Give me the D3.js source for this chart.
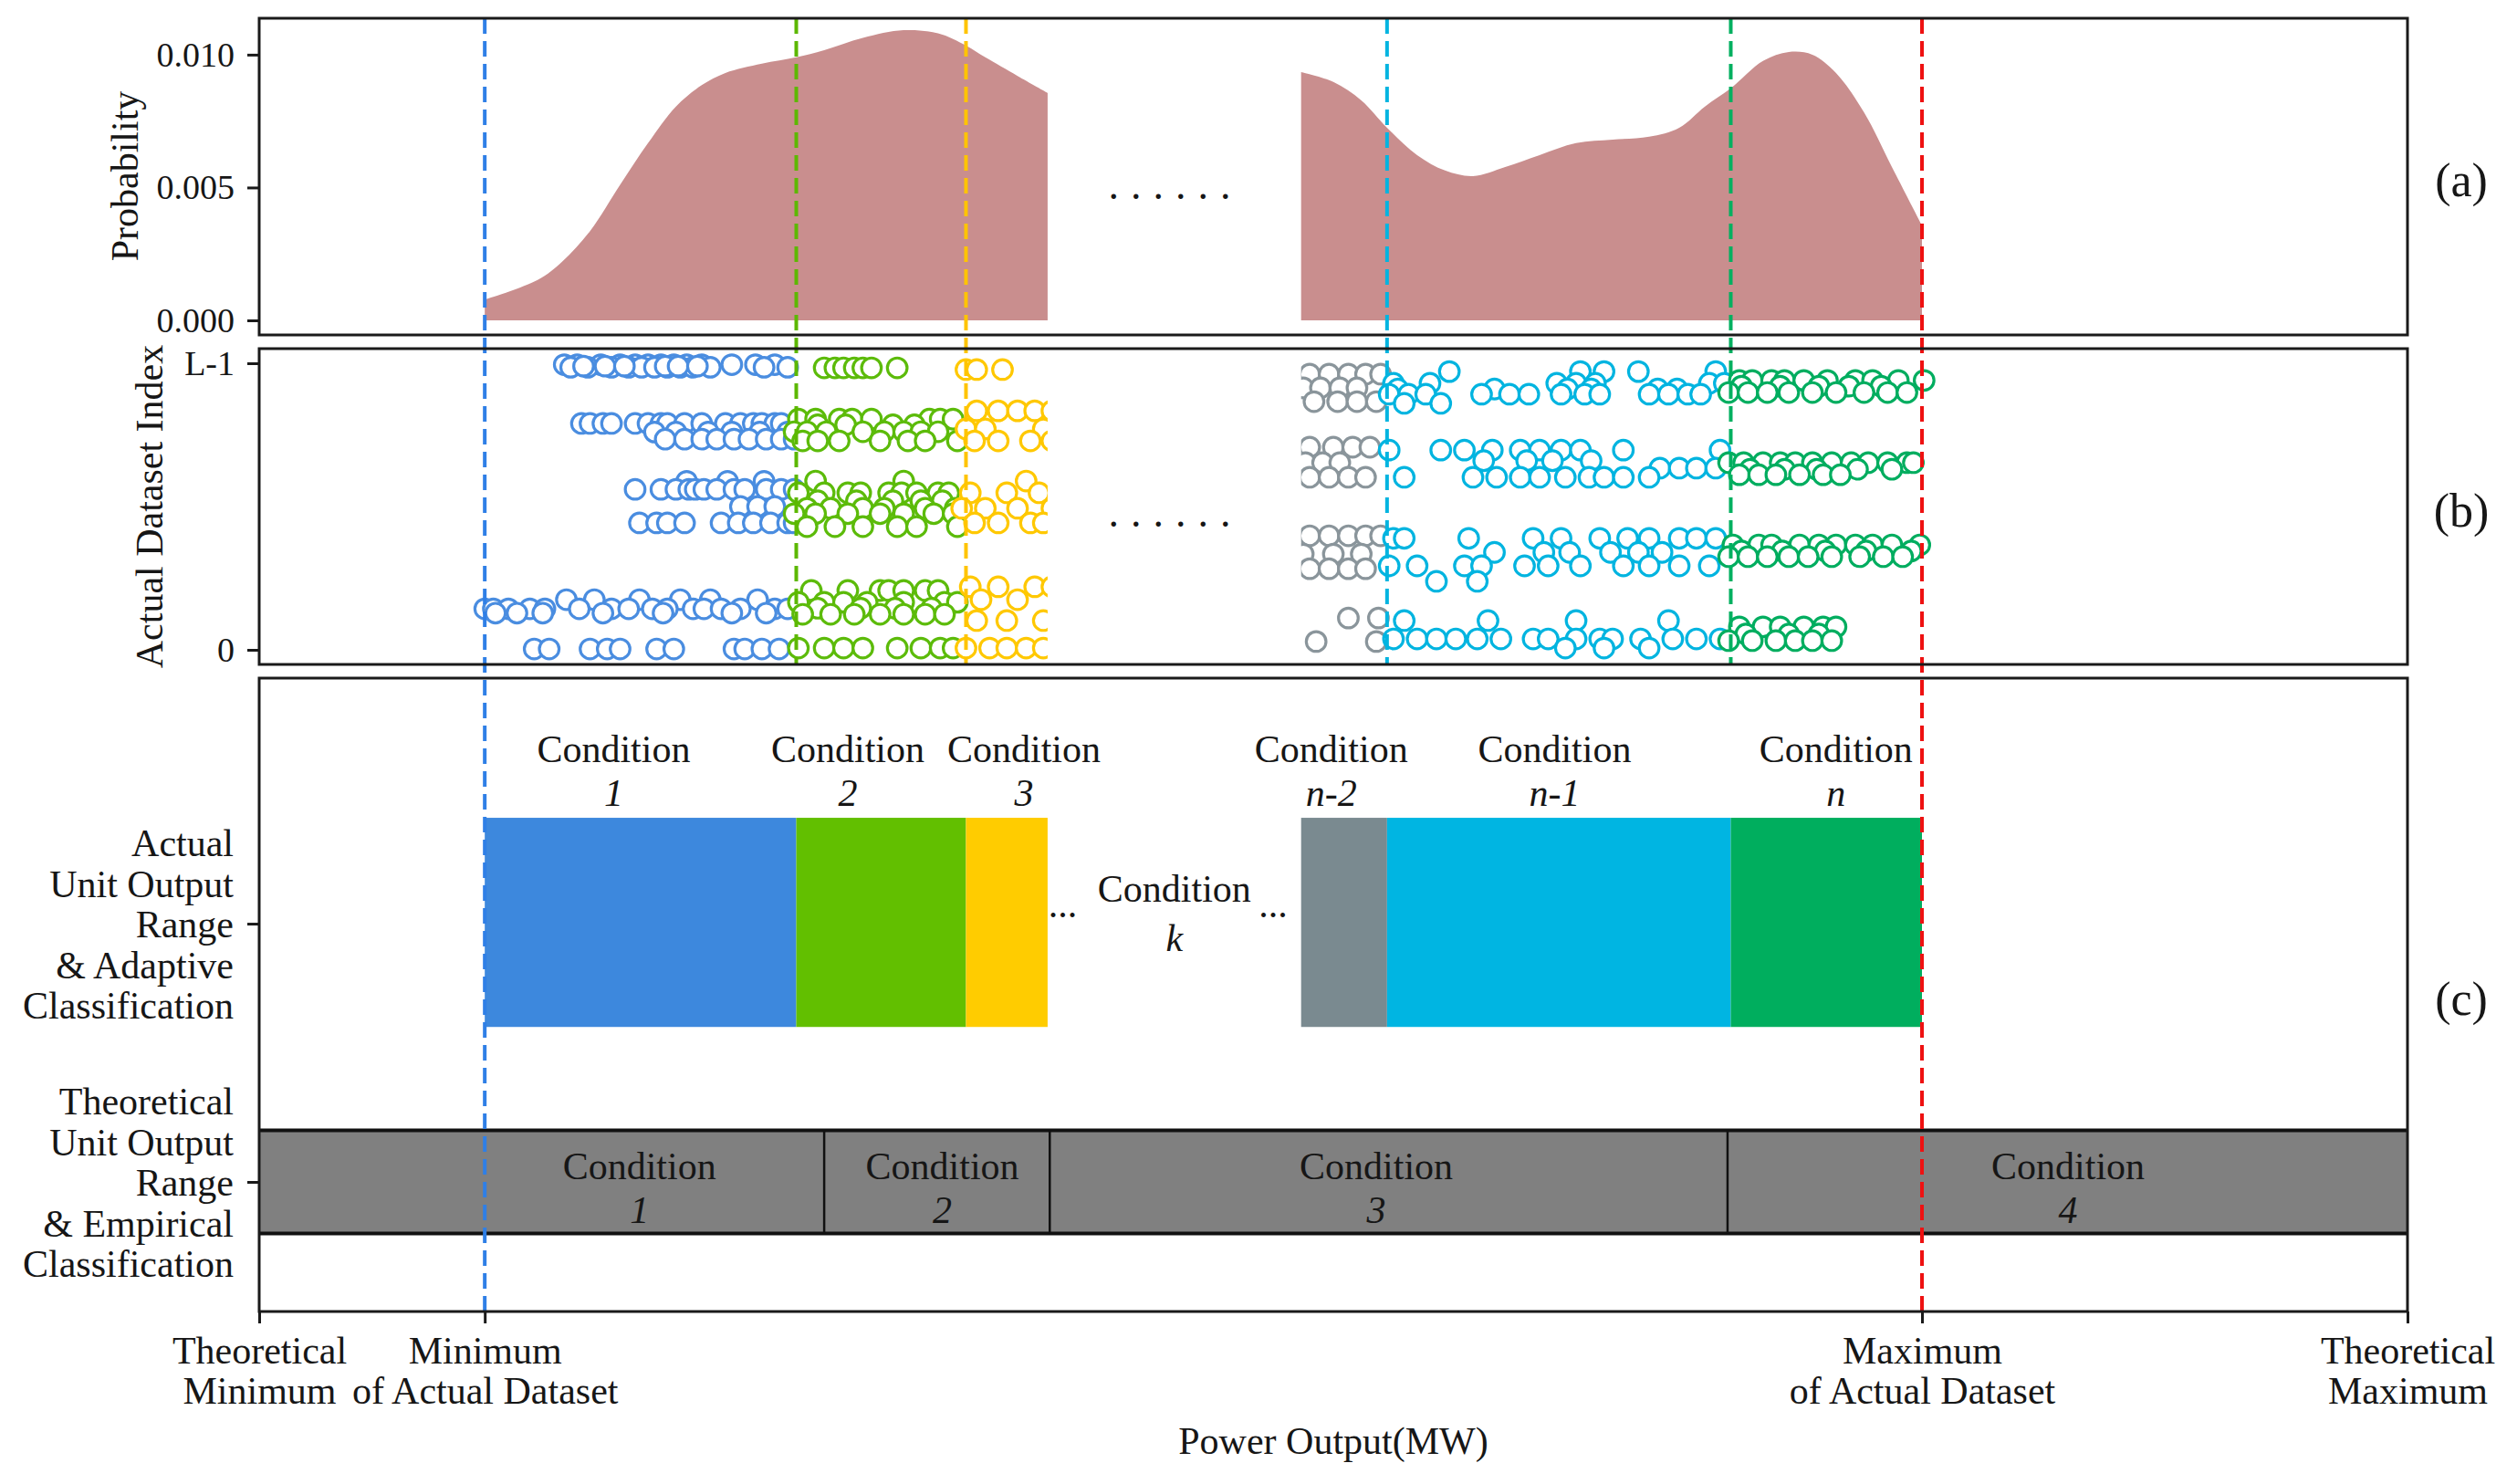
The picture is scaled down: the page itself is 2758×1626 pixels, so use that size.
<!DOCTYPE html>
<html><head><meta charset="utf-8">
<script src="https://cdn.jsdelivr.net/npm/d3@7"></script>
<style>
body{margin:0;background:#fff}
svg{display:block}
text{font-family:"Liberation Serif","Times New Roman",serif;fill:#161616}
</style>
</head><body>
<svg id="chart" width="2758" height="1626"></svg>
<script>
// ---------------- DATA ----------------
// x axis (power output, 0 = theoretical minimum, 100 = theoretical maximum)
const xTickValues = [0, 10.5, 77.4, 100];
const xTickLabels = [["Theoretical","Minimum"],["Minimum","of Actual Dataset"],["Maximum","of Actual Dataset"],["Theoretical","Maximum"]];
const xTitle = "Power Output(MW)";

// dashed split lines
const splitValues = [10.5, 25.0, 32.9, 52.5, 68.5, 77.4];
const splitFullHeight = [true, false, false, false, false, true];

// panel (a) probability density (two visible segments)
const densityLeftX = [10.5,12.96,14.1,15.4,16.8,18.1,19.4,20.6,21.7,23.4,25.0,26.3,28.1,30.0,31.6,32.9,33.8,35.3,36.7];
const densityLeftY = [0.00078,0.00152,0.00221,0.00336,0.0051,0.00667,0.00805,0.00885,0.00931,0.00966,0.0099,0.01017,0.01063,0.01092,0.0108,0.01034,0.0099,0.0092,0.00856];
const densityRightX = [48.5,50.0,51.3,52.5,53.9,55.2,56.5,58.0,59.6,61.3,63.0,64.7,66.1,67.3,68.5,70.0,71.2,72.3,73.4,74.7,76.0,77.4];
const densityRightY = [0.00934,0.00897,0.00828,0.00725,0.00622,0.00564,0.00543,0.00577,0.00622,0.00667,0.0068,0.00691,0.00725,0.00805,0.00873,0.00976,0.0101,0.0100,0.00931,0.00783,0.00577,0.00357];
const yTicksA = [0, 0.005, 0.010];

// panel (b) actual dataset index rows: [index, [power values]]
const yTicksB = [0, 100];
const yTickLabelsB = ["0", "L-1"];
const blueRows = [
  [99.5,[14.2,14.8,15.9,16.8,17.5,18.1,18.7,19.3,19.9,20.6,22.0,23.1,24.0]],
  [98.6,[14.5,15.3,16.4,17.2,17.8,18.4,19.0,19.6,20.2,21.0,23.5,24.6]],
  [99.0,[15.1,16.1,17.0,18.9,19.5,20.4]],
  [79.0,[15.0,15.4,16.0,16.4,17.5,18.1,18.7,19.0,19.8,20.6,21.7,22.4,23.0,23.4,24.0,24.3]],
  [76.0,[18.4,19.4,20.9,22.0,23.3,24.6]],
  [73.5,[18.9,19.8,20.6,21.3,22.1,22.8,23.6,24.3,24.9]],
  [58.8,[19.9,21.8,23.5]],
  [56.0,[17.5,18.7,19.4,20.0,20.3,20.7,21.3,22.1,22.6,23.6,24.3,24.9]],
  [50.0,[22.4,23.2,24.0]],
  [44.3,[17.7,18.5,19.0,19.8,21.5,22.3,23.0,23.8,24.6,24.9]],
  [17.5,[14.3,15.6,17.7,19.6,21.0,23.2]],
  [14.3,[10.5,10.9,11.6,12.6,13.3,14.9,16.4,17.2,18.3,19.0,20.2,20.7,21.5,22.4,24.0,24.6]],
  [12.8,[11.0,12.0,13.2,16.0,18.8,22.0,23.6]],
  [0.3,[12.8,13.5,15.4,16.2,16.8,18.5,19.3,22.1,22.6,23.4,24.2]]
];
const greenRows = [
  [98.4,[26.3,26.8,27.2,27.7,28.1,28.5,29.7]],
  [80.5,[25.1,25.9,27.0,27.6,28.5,31.2,31.7,32.3]],
  [78.5,[26.0,27.3,29.5,30.5]],
  [76.1,[24.9,25.5,26.4,28.1,29.1,30.0,30.8,31.6]],
  [72.9,[25.3,26.0,27.0,28.9,30.2,31.0,32.5]],
  [58.9,[25.9,30.0]],
  [54.8,[25.1,26.3,27.4,28.0,29.3,29.9,30.6,31.6,32.1]],
  [52.0,[26.0,27.8,29.5,30.8,31.8]],
  [49.4,[25.5,26.6,28.1,29.1,31.0,32.4]],
  [47.5,[24.9,25.9,27.4,28.9,30.0,31.4,32.3]],
  [43.0,[25.5,26.8,28.1,29.7,30.6,32.5]],
  [20.7,[25.7,27.4,28.9,29.3,30.0,31.0,31.6]],
  [16.6,[25.1,26.3,27.2,28.3,30.0,31.9,32.5]],
  [14.5,[26.0,28.0,29.6,31.3]],
  [12.4,[25.3,26.6,27.7,28.9,30.0,31.0,31.9]],
  [0.6,[25.1,26.3,27.2,28.1,29.7,30.8,31.7,32.3]]
];
const yellowRows = [
  [97.8,[32.9,33.4,34.6]],
  [83.4,[33.4,34.4,35.3,36.1,36.9]],
  [77.1,[32.9,33.8,36.5]],
  [72.9,[33.3,34.4,35.9,36.9]],
  [58.9,[35.7]],
  [54.8,[33.1,34.8,36.3]],
  [49.4,[32.7,33.8,35.3,36.9]],
  [44.3,[33.3,34.4,35.9,36.5]],
  [22.0,[33.1,34.4,36.1,36.9]],
  [17.5,[33.6,35.3]],
  [10.2,[33.4,34.8,36.5]],
  [0.6,[32.9,34.0,34.8,35.7,36.5]]
];
const grayRows = [
  [96.2,[48.9,49.8,50.7,51.5,52.2]],
  [91.4,[48.6,49.4,50.3,51.1]],
  [86.6,[49.1,50.2,51.1,52.0]],
  [70.7,[48.9,50.0,50.9,51.7]],
  [65.3,[48.7,49.5,50.3]],
  [60.2,[48.9,49.8,50.7,51.5]],
  [39.8,[48.9,49.8,50.7,51.5,52.2]],
  [33.4,[48.6,50.0,51.3]],
  [28.3,[48.9,49.8,50.7,51.5]],
  [11.1,[50.7,52.1]],
  [2.9,[49.2,52.0]]
];
const cyanRows = [
  [97.1,[55.4,61.5,62.6,64.2,67.8]],
  [93.0,[52.8,54.5,60.4,61.3,62.2,67.5,68.2]],
  [91.0,[53.0,57.5,60.9,62.0,65.1,66.0]],
  [89.2,[52.6,53.5,54.3,56.9,58.2,59.1,60.6,61.7,62.4,64.7,65.6,66.5,67.1]],
  [86.0,[53.3,55.0]],
  [69.7,[52.6,55.0,56.1,57.4,58.7,59.6,60.6,61.5,63.5,68.0]],
  [66.0,[57.0,59.0,60.2,62.0]],
  [63.4,[65.2,66.1,66.9,67.8]],
  [60.2,[53.3,56.5,57.6,58.7,59.6,60.8,61.9,62.6,63.5,64.7]],
  [38.9,[52.8,53.3,56.3,59.3,60.6,62.4,63.7,64.7,66.1,66.9,67.8]],
  [34.0,[57.5,59.8,61.0,62.9,64.2,65.3]],
  [29.3,[52.6,53.9,56.1,56.9,58.9,60.0,61.5,63.5,64.7,66.1,67.5]],
  [23.9,[54.8,56.7]],
  [10.2,[53.3,57.2,61.3,65.6]],
  [3.8,[52.8,53.9,54.8,55.7,56.7,57.8,59.3,60.0,61.3,62.4,63.0,64.3,65.8,66.9,68.0]],
  [0.6,[60.8,62.6,64.7]]
];
const tealRows = [
  [94.0,[68.9,69.5,70.4,71.0,71.9,73.0,74.3,75.1,76.3,77.5]],
  [92.0,[69.0,70.8,72.6,74.0,75.5]],
  [89.8,[68.4,69.3,70.2,71.2,72.3,73.4,74.7,75.8,76.7]],
  [65.3,[68.4,69.1,70.0,70.8,71.5,72.3,73.2,74.1,74.9,75.8,76.7,77.0]],
  [63.0,[69.4,71.0,72.5,74.4,76.0]],
  [61.1,[68.9,69.8,70.6,71.7,72.8,73.6]],
  [36.6,[68.6,69.8,70.4,71.7,72.6,73.4,74.3,75.1,76.0,77.3]],
  [34.5,[69.0,70.9,72.9,74.8,76.9]],
  [32.5,[68.4,69.3,70.2,71.2,72.1,73.2,74.5,75.6,76.5]],
  [8.0,[68.9,70.0,70.8,71.9,72.8,73.4]],
  [5.5,[69.2,71.2,72.6]],
  [3.2,[68.4,69.5,70.6,71.5,72.3,73.2]]
];
const gapStart = 36.7, gapEnd = 48.5;

// panel (c) adaptive classification
const adaptiveStarts = [10.5, 25.0, 32.9, 48.5, 52.5, 68.5];
const adaptiveEnds   = [25.0, 32.9, 36.7, 52.5, 68.5, 77.4];
const adaptiveNames  = ["1","2","3","n-2","n-1","n"];
const adaptiveLabelX = [16.5, 27.4, 35.6, 49.9, 60.3, 73.4];
const middleLabelX = 42.6, middleName = "k";
const ellipsisX = [37.4, 47.2];
// panel (c) empirical classification
const empiricalStarts = [0, 26.3, 36.8, 68.35];
const empiricalEnds   = [26.3, 36.8, 68.35, 100];
const empiricalNames  = ["1","2","3","4"];
const empiricalLabelX = [17.7, 31.8, 52.0, 84.2];
const yTicksC = [1, 0];
const yTickLabelsC = [["Actual","Unit Output","Range","& Adaptive","Classification"],
                      ["Theoretical","Unit Output","Range","& Empirical","Classification"]];
const panelTags = ["(a)","(b)","(c)"];

// ---------------- STYLE ----------------
const splitColors = ["#2f7fe6","#5cb800","#ffc400","#00b4e0","#00b060","#ee1111"];
const scatterColors = ["#4a8de0","#5cbb0a","#ffc800","#8a959b","#00b4e0","#00ad5f"];
const adaptiveColors = ["#3d88dd","#62bf00","#ffcc00","#7a8a90","#00b5e2","#00ae5e"];
const densityColor = "#c98e8e";
const emp = "#808080";

// ---------------- SCALES ----------------
const svg = d3.select("#chart");
const L = 284, R = 2638;
const x = d3.scaleLinear().domain([0,100]).range([L,R]);
const yA = d3.scaleLinear().domain([-0.00055, 0.01137]).range([367, 20]);
const yB = d3.scaleLinear().domain([-5.1, 105.1]).range([728, 382]);
const yC = d3.scaleLinear().domain([-0.502, 1.951]).range([1437, 743]);

// ---------------- PANEL A ----------------
const area = d3.area().x(d=>x(d[0])).y0(yA(0)).y1(d=>yA(d[1])).curve(d3.curveCatmullRom.alpha(0.5));
[[densityLeftX,densityLeftY],[densityRightX,densityRightY]].forEach(([xs,ys])=>{
  svg.append("path").attr("d", area(xs.map((v,i)=>[v,ys[i]]))).attr("fill",densityColor);
});

// ---------------- PANEL B ----------------
const gB = svg.append("g");
[blueRows,greenRows,yellowRows,grayRows,cyanRows,tealRows].forEach((rows,ci)=>{
  const pts = [];
  rows.forEach(([iy,xs])=>xs.forEach(v=>pts.push([v,iy])));
  gB.append("g").selectAll("circle").data(pts).join("circle")
    .attr("cx",d=>x(d[0])).attr("cy",d=>yB(d[1])).attr("r",10.8)
    .attr("fill","#fff").attr("stroke",scatterColors[ci]).attr("stroke-width",3.2);
});
// blank gap (omitted conditions)
svg.append("rect").attr("x",x(gapStart)).attr("y",384).attr("width",x(gapEnd)-x(gapStart)).attr("height",342).attr("fill","#fff");

// ---------------- PANEL C ----------------
const barTop = yC(1.41), barBot = yC(0.6);
adaptiveStarts.forEach((s,i)=>{
  svg.append("rect").attr("x",x(s)).attr("y",barTop).attr("width",x(adaptiveEnds[i])-x(s)).attr("height",barBot-barTop).attr("fill",adaptiveColors[i]);
  svg.append("text").attr("x",x(adaptiveLabelX[i])).attr("y",barTop-76).attr("dy","0.35em").attr("text-anchor","middle").attr("font-size",42).text("Condition");
  svg.append("text").attr("x",x(adaptiveLabelX[i])).attr("y",barTop-28).attr("dy","0.35em").attr("text-anchor","middle").attr("font-size",42).attr("font-style","italic").text(adaptiveNames[i]);
});
svg.append("text").attr("x",x(middleLabelX)).attr("y",973).attr("dy","0.35em").attr("text-anchor","middle").attr("font-size",42).text("Condition");
svg.append("text").attr("x",x(middleLabelX)).attr("y",1027).attr("dy","0.35em").attr("text-anchor","middle").attr("font-size",42).attr("font-style","italic").text(middleName);
ellipsisX.forEach(v=>svg.append("text").attr("x",x(v)).attr("y",1005).attr("text-anchor","middle").attr("font-size",42).text("..."));

const eTop = yC(0.2), eBot = yC(-0.2), eMid = yC(0);
empiricalStarts.forEach((s,i)=>{
  svg.append("rect").attr("x",x(s)).attr("y",eTop).attr("width",x(empiricalEnds[i])-x(s)).attr("height",eBot-eTop).attr("fill",emp);
  svg.append("text").attr("x",x(empiricalLabelX[i])).attr("y",eMid-18).attr("dy","0.35em").attr("text-anchor","middle").attr("font-size",42).text("Condition");
  svg.append("text").attr("x",x(empiricalLabelX[i])).attr("y",eMid+30).attr("dy","0.35em").attr("text-anchor","middle").attr("font-size",42).attr("font-style","italic").text(empiricalNames[i]);
});
[eTop,eBot].forEach(yy=>svg.append("line").attr("x1",L).attr("x2",R).attr("y1",yy).attr("y2",yy).attr("stroke","#111").attr("stroke-width",4));
empiricalStarts.slice(1).forEach(s=>svg.append("line").attr("x1",x(s)).attr("x2",x(s)).attr("y1",eTop).attr("y2",eBot).attr("stroke","#111").attr("stroke-width",2.5));

// ---------------- DASHED SPLIT LINES ----------------
splitValues.forEach((v,i)=>{
  svg.append("line").attr("x1",x(v)).attr("x2",x(v)).attr("y1",20).attr("y2",splitFullHeight[i]?1437:728)
    .attr("stroke",splitColors[i]).attr("stroke-width",4).attr("stroke-dasharray","17 8");
});

// ---------------- ELLIPSES IN GAP ----------------
[213, 572].forEach(yy=>svg.append("text").attr("x",x(42.65)).attr("y",yy).attr("dy","0.1em").attr("text-anchor","middle")
  .attr("font-size",46).attr("letter-spacing","13px").text("......"));

// ---------------- PANEL BORDERS ----------------
[[20,367],[382,728],[743,1437]].forEach(([t,b])=>{
  svg.append("rect").attr("x",L).attr("y",t).attr("width",R-L).attr("height",b-t).attr("fill","none").attr("stroke","#1a1a1a").attr("stroke-width",3);
});

// ---------------- AXES ----------------
function styleAxis(g, fs){
  g.select(".domain").remove();
  g.selectAll(".tick line").attr("stroke","#1a1a1a").attr("stroke-width",3);
  g.selectAll(".tick text").attr("font-family","Liberation Serif, serif").attr("font-size",fs).attr("fill","#161616");
}
svg.append("g").attr("transform",`translate(${L},0)`)
  .call(d3.axisLeft(yA).tickValues(yTicksA).tickFormat(d3.format(".3f")).tickSize(13).tickPadding(14))
  .call(g=>styleAxis(g,38));
svg.append("g").attr("transform",`translate(${L},0)`)
  .call(d3.axisLeft(yB).tickValues(yTicksB).tickFormat((d,i)=>yTickLabelsB[i]).tickSize(13).tickPadding(14))
  .call(g=>styleAxis(g,38));
const axC = svg.append("g").attr("transform",`translate(${L},0)`)
  .call(d3.axisLeft(yC).tickValues(yTicksC).tickFormat("").tickSize(13))
  .call(g=>styleAxis(g,42));
axC.selectAll(".tick").each(function(d,i){
  const t = d3.select(this).append("text").attr("text-anchor","end").attr("font-size",42).attr("fill","#161616");
  yTickLabelsC[i].forEach((s,j)=>t.append("tspan").attr("x",-28).attr("y",(j-2)*44.5).attr("dy","0.35em").text(s));
});
const axX = svg.append("g").attr("transform",`translate(0,1437)`)
  .call(d3.axisBottom(x).tickValues(xTickValues).tickFormat("").tickSize(13))
  .call(g=>styleAxis(g,42));
axX.selectAll(".tick").each(function(d,i){
  const t = d3.select(this).append("text").attr("text-anchor","middle").attr("font-size",42).attr("fill","#161616");
  xTickLabels[i].forEach((s,j)=>t.append("tspan").attr("x",0).attr("y",42+j*44).attr("dy","0.35em").text(s));
});

// ---------------- TITLES ----------------
svg.append("text").attr("x",(L+R)/2).attr("y",1578).attr("dy","0.35em").attr("text-anchor","middle").attr("font-size",42).text(xTitle);
svg.append("text").attr("transform","translate(136,193) rotate(-90)").attr("dy","0.35em").attr("text-anchor","middle").attr("font-size",42).text("Probability");
svg.append("text").attr("transform","translate(163,555) rotate(-90)").attr("dy","0.35em").attr("text-anchor","middle").attr("font-size",42).text("Actual Dataset Index");
[197,559,1094].forEach((yy,i)=>svg.append("text").attr("x",2697).attr("y",yy).attr("dy","0.35em").attr("text-anchor","middle").attr("font-size",52).text(panelTags[i]));
</script>
</body></html>
